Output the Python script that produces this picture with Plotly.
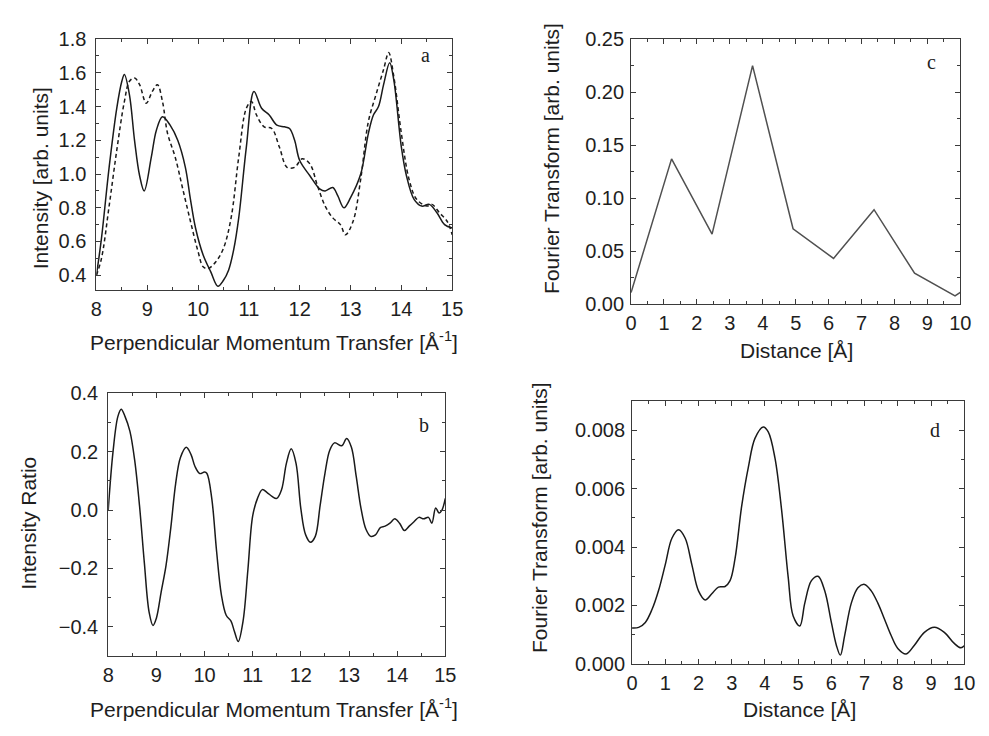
import plotly.graph_objects as go

# Panel a: intensity vs perpendicular momentum transfer (solid and dashed curves)
a_solid_x = [8.0, 8.1, 8.25, 8.4, 8.5, 8.55, 8.65, 8.75, 8.85, 8.94, 9.08, 9.18, 9.3, 9.45,
             9.6, 9.75, 9.85, 9.95, 10.1, 10.25, 10.39, 10.5, 10.6, 10.7, 10.8, 10.95, 11.1,
             11.25, 11.4, 11.55, 11.7, 11.8, 11.9, 12.0, 12.2, 12.4, 12.5, 12.65, 12.75, 12.87,
             13.0, 13.2, 13.35, 13.45, 13.55, 13.65, 13.77, 13.85, 14.0, 14.1, 14.25, 14.4,
             14.55, 14.7, 14.85, 15.0]
a_solid_y = [0.40, 0.62, 1.04, 1.39, 1.55, 1.59, 1.47, 1.20, 0.99, 0.90, 1.10, 1.26, 1.34, 1.29,
             1.20, 1.04, 0.85, 0.68, 0.52, 0.42, 0.335, 0.37, 0.43, 0.55, 0.74, 1.16, 1.49,
             1.39, 1.35, 1.29, 1.28, 1.27, 1.20, 1.08, 0.99, 0.91, 0.90, 0.92, 0.87, 0.80,
             0.86, 1.00, 1.24, 1.35, 1.40, 1.53, 1.66, 1.56, 1.16, 0.99, 0.85, 0.81,
             0.82, 0.77, 0.70, 0.68]
a_dash_x = [8.0, 8.1, 8.25, 8.4, 8.55, 8.65, 8.75, 8.85, 8.98, 9.1, 9.2, 9.3, 9.4, 9.55, 9.7,
            9.85, 10.0, 10.1, 10.2, 10.35, 10.5, 10.65, 10.8, 10.95, 11.05, 11.15, 11.3, 11.45,
            11.6, 11.75, 11.9, 12.05, 12.2, 12.35, 12.5, 12.65, 12.8, 12.9, 13.05, 13.2, 13.35,
            13.5, 13.65, 13.75, 13.85, 14.0, 14.15, 14.3, 14.5, 14.6, 14.75, 14.9, 15.0]
a_dash_y = [0.40, 0.50, 0.81, 1.14, 1.43, 1.55, 1.57, 1.53, 1.42, 1.49, 1.53, 1.43, 1.24, 1.10,
            0.91, 0.72, 0.54, 0.45, 0.44, 0.48, 0.56, 0.74, 1.10, 1.39, 1.43, 1.35, 1.28, 1.27,
            1.16, 1.04, 1.04, 1.09, 1.06, 0.93, 0.81, 0.74, 0.70, 0.64, 0.72, 0.97, 1.31,
            1.47, 1.62, 1.72, 1.58, 1.24, 0.97, 0.85, 0.81, 0.82, 0.77, 0.72, 0.64]

# Panel b: intensity ratio
b_x = [8.0, 8.1, 8.2, 8.27, 8.35, 8.45, 8.55, 8.65, 8.75, 8.85, 8.93, 9.0, 9.1, 9.2, 9.3,
       9.4, 9.5, 9.62, 9.72, 9.8, 9.9, 10.0, 10.05, 10.15, 10.25, 10.35, 10.45, 10.55, 10.62,
       10.7, 10.8, 10.9, 11.0, 11.1, 11.2, 11.3, 11.4, 11.5, 11.6, 11.7, 11.8, 11.9, 12.0,
       12.1, 12.2, 12.3, 12.4, 12.5, 12.6, 12.7, 12.85, 12.95, 13.05, 13.15, 13.25, 13.35,
       13.45, 13.55, 13.65, 13.75, 13.85, 13.95, 14.05, 14.15, 14.25, 14.35, 14.45, 14.55,
       14.65, 14.72, 14.8, 14.87, 14.93, 15.0]
b_y = [0.0, 0.20, 0.32, 0.345, 0.32, 0.27, 0.17, 0.015, -0.18, -0.35, -0.395, -0.37, -0.28,
       -0.19, -0.06, 0.09, 0.18, 0.215, 0.19, 0.15, 0.125, 0.13, 0.125, 0.04, -0.14, -0.29,
       -0.36, -0.38, -0.415, -0.45, -0.38, -0.205, -0.02, 0.04, 0.07, 0.06, 0.047, 0.04, 0.07,
       0.16, 0.21, 0.16, 0.005, -0.085, -0.11, -0.09, 0.015, 0.125, 0.205, 0.23, 0.22, 0.245,
       0.215, 0.115, 0.005, -0.065, -0.09, -0.085, -0.06, -0.055, -0.045, -0.03, -0.045,
       -0.07, -0.055, -0.04, -0.025, -0.03, -0.025, -0.045, 0.007, -0.01, 0.0, 0.04]

# Panel c: coarse Fourier transform
c_x = [0.0, 1.23, 2.46, 3.69, 4.92, 6.15, 7.38, 8.61, 9.84, 10.0]
c_y = [0.0107, 0.137, 0.066, 0.225, 0.071, 0.043, 0.089, 0.029, 0.0077, 0.011]

# Panel d: fine Fourier transform
d_x = [0.0, 0.2, 0.4, 0.6, 0.8, 1.0, 1.2, 1.4, 1.6, 1.8, 2.0, 2.2, 2.4, 2.6, 2.8, 2.95, 3.1,
       3.3, 3.5, 3.7, 3.95, 4.1, 4.3, 4.5, 4.7, 4.85, 5.05, 5.2, 5.4, 5.6, 5.8, 6.0, 6.15,
       6.27, 6.4, 6.6, 6.8, 7.0, 7.2, 7.4, 7.6, 7.8, 8.0, 8.25, 8.5, 8.8, 9.1, 9.4, 9.7, 9.9,
       10.0]
d_y = [0.00123, 0.00125, 0.00142, 0.00186, 0.00252, 0.0034, 0.0043, 0.00459, 0.0043, 0.0034,
       0.0025, 0.00219, 0.0024, 0.00263, 0.00265, 0.00285, 0.0036, 0.0054, 0.00673, 0.00772,
       0.00811, 0.00794, 0.00706, 0.00529, 0.00297, 0.00164, 0.0013, 0.00208, 0.00285, 0.003,
       0.0025, 0.00142, 0.00064, 0.0003, 0.00097, 0.00208, 0.00261, 0.00272, 0.0025, 0.00208,
       0.00153, 0.00097, 0.00053, 0.00034, 0.00064, 0.00108, 0.00125, 0.00108, 0.0007,
       0.00055, 0.00062]

W, H = 989, 736
FONT = "Liberation Sans"
AX_COL = "#3a3a3a"
TXT_COL = "#1e1e1e"
TICK_SIZE = 20
TITLE_SIZE = 21


def px_dom(p0, p1, total, flip=False):
    if flip:
        return [1 - p1 / total, 1 - p0 / total]
    return [p0 / total, p1 / total]


fig = go.Figure()

smooth = dict(shape="spline", smoothing=1.0)
fig.add_trace(go.Scatter(x=a_solid_x, y=a_solid_y, mode="lines", line=dict(color="#1a1a1a", width=1.5, **smooth), xaxis="x", yaxis="y", showlegend=False))
fig.add_trace(go.Scatter(x=a_dash_x, y=a_dash_y, mode="lines", line=dict(color="#1a1a1a", width=1.5, dash="4px,3px", **smooth), xaxis="x", yaxis="y", showlegend=False))
fig.add_trace(go.Scatter(x=b_x, y=b_y, mode="lines", line=dict(color="#1a1a1a", width=1.5, **smooth), xaxis="x2", yaxis="y2", showlegend=False))
fig.add_trace(go.Scatter(x=c_x, y=c_y, mode="lines", line=dict(color="#505050", width=1.5), xaxis="x3", yaxis="y3", showlegend=False))
fig.add_trace(go.Scatter(x=d_x, y=d_y, mode="lines", line=dict(color="#1a1a1a", width=1.5, **smooth), xaxis="x4", yaxis="y4", showlegend=False))


def axis(domain, rng, dtick, minor_dtick, anchor, fmt=None, tick0=None, standoff=1):
    ax = dict(
        domain=domain, range=rng, dtick=dtick, tick0=rng[0] if tick0 is None else tick0,
        anchor=anchor, showgrid=False, zeroline=False, showline=True, linecolor=AX_COL,
        linewidth=1, mirror="allticks", ticks="inside", ticklen=5, tickwidth=1,
        tickcolor=AX_COL, tickfont=dict(family=FONT, size=TICK_SIZE, color=TXT_COL),
        ticklabelstandoff=standoff,
        minor=dict(dtick=minor_dtick, ticks="inside", ticklen=3, tickcolor=AX_COL, showgrid=False),
    )
    if fmt:
        ax["tickformat"] = fmt
    return ax


layout = dict(
    width=W, height=H, margin=dict(l=0, r=0, t=0, b=0),
    paper_bgcolor="white", plot_bgcolor="white",
    xaxis=axis(px_dom(92, 454, W), [8, 15], 1, 0.5, "y"),
    yaxis=axis(px_dom(29, 288, H, True), [0.31, 1.8], 0.2, 0.1, "x", ".1f", tick0=0.4, standoff=5),
    xaxis2=axis(px_dom(104, 447, W), [8, 15], 1, 0.5, "y2"),
    yaxis2=axis(px_dom(394, 665, H, True), [-0.5, 0.4], 0.2, 0.1, "x2", ".1f", tick0=-0.4, standoff=5),
    xaxis3=axis(px_dom(636, 971, W), [0, 10], 1, 0.5, "y3"),
    yaxis3=axis(px_dom(29, 302, H, True), [0, 0.25], 0.05, 0.025, "x3", ".2f", standoff=2),
    xaxis4=axis(px_dom(637, 975, W), [0, 10], 1, 0.5, "y4"),
    yaxis4=axis(px_dom(402, 673, H, True), [0, 0.009], 0.002, 0.001, "x4", ".3f", standoff=2),
)
fig.update_layout(**layout)


def label(text, x, y, size=TITLE_SIZE, angle=0, family=FONT):
    fig.add_annotation(text=text, x=x / W, y=1 - y / H, xref="paper", yref="paper",
                       showarrow=False, textangle=angle, xanchor="center", yanchor="middle",
                       font=dict(family=family, size=size, color=TXT_COL))


xq = "Perpendicular Momentum Transfer [Å<sup>-1</sup>]"
label(xq, 273, 340)
label(xq, 273, 718)
label("Intensity [arb. units]", 35, 172, angle=-90)
label("Intensity Ratio", 23, 528, angle=-90)
label("Distance [Å]", 804, 350)
label("Distance [Å]", 807, 720)
label("Fourier Transform [arb. units]", 555, 152, angle=-90)
label("Fourier Transform [arb. units]", 543, 522, angle=-90)

SERIF = "Liberation Serif"
label("a", 427, 45, size=20, family=SERIF)
label("b", 425, 427, size=20, family=SERIF)
label("c", 942, 53, size=20, family=SERIF)
label("d", 945, 432, size=20, family=SERIF)

fig.write_html("out.html")
